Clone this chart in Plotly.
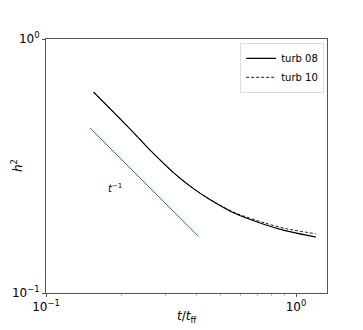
import plotly.graph_objects as go

# h^2 against t/t_ff
t_turb08 = [0.155, 0.190, 0.224, 0.261, 0.327, 0.390, 0.454, 0.571, 0.753, 0.906, 1.20]
h2_turb08 = [0.618, 0.505, 0.428, 0.365, 0.295, 0.257, 0.233, 0.2055, 0.1857, 0.176, 0.166]

t_turb10 = [0.155, 0.190, 0.224, 0.261, 0.327, 0.390, 0.454, 0.571, 0.753, 0.906, 1.20]
h2_turb10 = [0.618, 0.505, 0.428, 0.365, 0.295, 0.257, 0.233, 0.2068, 0.1885, 0.1795, 0.171]

# t^-1 reference slope
t_ref = [0.150, 0.4076]
h2_ref = [0.446, 0.167]

xticks = [0.1, 1.0]
xtick_text = ["10<sup>−1</sup>", "10<sup>0</sup>"]
yticks = [0.1, 1.0]
ytick_text = ["10<sup>−1</sup>", "10<sup>0</sup>"]
minor_x = [0.2, 0.3, 0.4, 0.5, 0.6, 0.7, 0.8, 0.9]

fig = go.Figure()
fig.add_trace(go.Scatter(x=t_turb08, y=h2_turb08, mode="lines", name="turb 08",
                         line=dict(color="black", width=1.2, shape="spline", smoothing=0.8)))
fig.add_trace(go.Scatter(x=t_turb10, y=h2_turb10, mode="lines", name="turb 10",
                         line=dict(color="black", width=0.9, dash="3px,2px",
                                   shape="spline", smoothing=0.8)))
fig.add_trace(go.Scatter(x=t_ref, y=h2_ref, mode="lines", showlegend=False,
                         line=dict(color="#1f77b4", width=1)))

fig.add_annotation(x=-0.723, y=-0.5866, xref="x", yref="y",
                   text="<i>t</i><sup>−1</sup>", showarrow=False,
                   font=dict(size=10, color="black"))

# axis titles placed by hand
fig.add_annotation(x=0.5, y=-0.055, xref="paper", yref="paper", yanchor="top",
                   text="<i>t</i>/<i>t</i><sub>ff</sub>", showarrow=False,
                   font=dict(size=12, color="black"))
fig.add_annotation(x=-0.103, y=0.5, xref="paper", yref="paper", xanchor="center",
                   text="<i>h</i><sup>2</sup>", textangle=-90, showarrow=False,
                   font=dict(size=12, color="black"))

axis_common = dict(type="log", showgrid=False, zeroline=False, showline=True,
                   linecolor="#555", linewidth=1, mirror=True, automargin=False,
                   ticks="outside", ticklen=3, tickcolor="#555",
                   tickfont=dict(family="DejaVu Sans", size=12, color="black"))

fig.update_xaxes(range=[-1, 0.124], tickvals=xticks, ticktext=xtick_text,
                 minor=dict(tickvals=minor_x, ticks="outside", ticklen=2, tickcolor="#bbb"),
                 **axis_common)
fig.update_yaxes(range=[-1, 0], tickvals=yticks, ticktext=ytick_text,
                 **axis_common)

# page body adds an 8px offset, so the figure is a bit smaller
fig.update_layout(
    width=355, height=322,
    margin=dict(l=38, r=36, t=31, b=37),
    plot_bgcolor="white", paper_bgcolor="white",
    font=dict(family="DejaVu Sans", color="black"),
    legend=dict(x=0.99, y=0.985, xanchor="right", yanchor="top",
                bgcolor="white", bordercolor="#ddd", borderwidth=1,
                font=dict(size=10), tracegroupgap=0, itemwidth=30),
)

fig.write_html("out.html")
